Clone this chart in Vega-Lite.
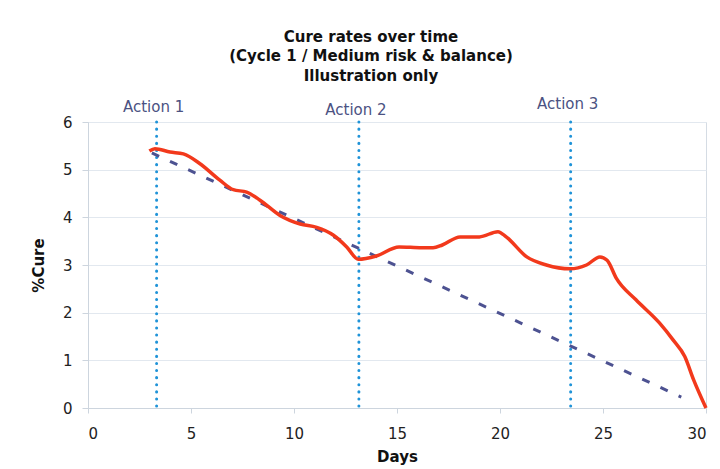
{
  "$schema": "https://vega.github.io/schema/vega-lite/v6.json",
  "width": 618,
  "height": 286,
  "autosize": "none",
  "padding": {"left": 88, "top": 122, "right": 14, "bottom": 61},
  "background": "white",
  "title": {
    "text": ["Cure rates over time", "(Cycle 1 / Medium risk & balance)", "Illustration only"],
    "anchor": "middle",
    "dx": -26,
    "dy": 27,
    "font": "DejaVu Sans",
    "fontSize": 15,
    "fontWeight": "bold",
    "color": "#111111",
    "lineHeight": 19.5,
    "baseline": "top",
    "offset": 40
  },
  "config": {
    "view": {"stroke": "#d5dce4", "strokeWidth": 1},
    "axis": {
      "labelFont": "DejaVu Sans",
      "labelFontSize": 15,
      "labelColor": "#222222",
      "titleFont": "DejaVu Sans",
      "titleFontSize": 15,
      "titleFontWeight": "bold",
      "titleColor": "#111111",
      "domainColor": "#cdd5de",
      "tickColor": "#cdd5de",
      "gridColor": "#e2e8ef"
    }
  },
  "datasets": {
    "cure": [
      {"day": 2.98, "cure": 5.39},
      {"day": 3.25, "cure": 5.44},
      {"day": 3.98, "cure": 5.37},
      {"day": 4.63, "cure": 5.33},
      {"day": 5.42, "cure": 5.13},
      {"day": 6.4, "cure": 4.78},
      {"day": 7.05, "cure": 4.58},
      {"day": 7.7, "cure": 4.53},
      {"day": 8.35, "cure": 4.36},
      {"day": 9.32, "cure": 4.04},
      {"day": 10.3, "cure": 3.86},
      {"day": 11.1, "cure": 3.79},
      {"day": 11.9, "cure": 3.63},
      {"day": 12.56, "cure": 3.38},
      {"day": 13.12, "cure": 3.12},
      {"day": 14.0, "cure": 3.19},
      {"day": 15.1, "cure": 3.38},
      {"day": 16.2, "cure": 3.36},
      {"day": 16.75, "cure": 3.36},
      {"day": 17.2, "cure": 3.42},
      {"day": 18.06, "cure": 3.59},
      {"day": 19.0, "cure": 3.59},
      {"day": 19.9, "cure": 3.7},
      {"day": 20.3, "cure": 3.59},
      {"day": 21.3, "cure": 3.17},
      {"day": 22.25, "cure": 3.0},
      {"day": 23.4, "cure": 2.92},
      {"day": 24.2, "cure": 3.0},
      {"day": 24.85, "cure": 3.17},
      {"day": 25.2, "cure": 3.1},
      {"day": 25.65, "cure": 2.72},
      {"day": 26.6, "cure": 2.27},
      {"day": 27.75, "cure": 1.78},
      {"day": 28.4, "cure": 1.43},
      {"day": 28.97, "cure": 1.08},
      {"day": 29.4, "cure": 0.59},
      {"day": 30.0, "cure": 0.0}
    ],
    "trend": [
      {"day": 3.1, "cure": 5.35},
      {"day": 28.8, "cure": 0.23}
    ],
    "actions": [
      {"day": 3.33, "label": "Action 1", "level": 6.32},
      {"day": 13.15, "label": "Action 2", "level": 6.26},
      {"day": 23.43, "label": "Action 3", "level": 6.38}
    ]
  },
  "layer": [
    {
      "data": {"name": "actions"},
      "mark": {"type": "rule", "color": "#1f93d8", "strokeWidth": 3, "strokeCap": "round", "strokeDash": [0.1, 7]},
      "encoding": {
        "x": {
          "field": "day", "type": "quantitative",
          "scale": {"domain": [0, 30]},
          "axis": {"values": [0, 5, 10, 15, 20, 25, 30], "grid": false, "tickSize": 5, "labelPadding": 13, "title": "Days", "titlePadding": 8}
        }
      }
    },
    {
      "data": {"name": "trend"},
      "mark": {"type": "line", "color": "#4d5291", "strokeWidth": 3, "strokeDash": [8, 12]},
      "encoding": {
        "x": {"field": "day", "type": "quantitative"},
        "y": {"field": "cure", "type": "quantitative"}
      }
    },
    {
      "data": {"name": "cure"},
      "mark": {"type": "line", "color": "#f2391c", "strokeWidth": 3.5, "interpolate": "monotone"},
      "encoding": {
        "x": {"field": "day", "type": "quantitative"},
        "y": {
          "field": "cure", "type": "quantitative",
          "scale": {"domain": [0, 6]},
          "axis": {"values": [0, 1, 2, 3, 4, 5, 6], "tickSize": 6, "labelPadding": 10, "title": "%Cure", "titlePadding": 16, "domainColor": "#cdd5de"}
        }
      }
    },
    {
      "data": {"name": "actions"},
      "mark": {"type": "text", "clip": false, "font": "DejaVu Sans", "fontSize": 15, "color": "#4b5282", "baseline": "middle", "dx": -3},
      "encoding": {
        "x": {"field": "day", "type": "quantitative"},
        "y": {"field": "level", "type": "quantitative"},
        "text": {"field": "label"}
      }
    }
  ]
}
